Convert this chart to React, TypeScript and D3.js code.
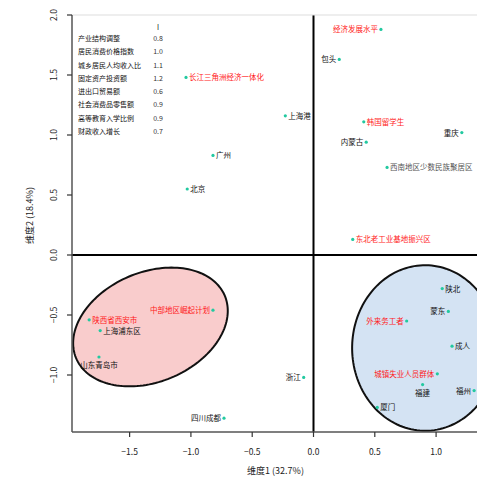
// App.tsx
import React, { useRef, useEffect } from 'react';
import * as d3 from 'd3';

// ---- DATA ----
const pointNames = [
  '经济发展水平', '包头', '上海港', '韩国留学生', '内蒙古', '重庆',
  '西南地区少数民族聚居区', '东北老工业基地振兴区',
  '长江三角洲经济一体化', '广州', '北京',
  '陕西省西安市', '中部地区崛起计划', '上海浦东区', '山东青岛市', '浙江', '四川成都',
  '陕北', '外来务工者', '蒙东', '成人', '城镇失业人员群体', '福建', '福州', '厦门',
];
const pointX = [
  0.55, 0.21, -0.23, 0.41, 0.43, 1.21, 0.6, 0.32,
  -1.04, -0.82, -1.03,
  -1.83, -0.82, -1.74, -1.75, -0.08, -0.73,
  1.05, 0.76, 1.1, 1.13, 1.01, 0.89, 1.31, 0.52,
];
const pointY = [
  1.88, 1.63, 1.16, 1.11, 0.94, 1.02, 0.73, 0.13,
  1.48, 0.83, 0.55,
  -0.54, -0.46, -0.63, -0.85, -1.02, -1.36,
  -0.28, -0.55, -0.47, -0.76, -0.99, -1.08, -1.13, -1.27,
];
// 'a' = red labels, 'b' = black labels, 'c' = grey
const pointGroup = [
  'a', 'b', 'b', 'a', 'b', 'b', 'c', 'a',
  'a', 'b', 'b',
  'a', 'a', 'b', 'b', 'b', 'b',
  'b', 'a', 'b', 'b', 'a', 'b', 'b', 'b',
];
const labelSide = [
  'end', 'end', 'start', 'start', 'end', 'end', 'start', 'start',
  'start', 'start', 'start',
  'start', 'end', 'start', 'below', 'end', 'end',
  'start', 'end', 'end', 'start', 'end', 'below', 'end', 'start',
];

const legendNames = [
  '产业结构调整', '居民消费价格指数', '城乡居民人均收入比', '固定资产投资额',
  '进出口贸易额', '社会消费品零售额', '高等教育入学比例', '财政收入增长',
];
const legendValues = ['0.8', '1.0', '1.1', '1.2', '0.6', '0.9', '0.9', '0.7'];

// ellipses: center x, center y, semi-axis a, semi-axis b, angle (deg)
const ellipseCx = [-1.33, 0.91];
const ellipseCy = [-0.6, -0.775];
const ellipseA = [0.66, 0.595];
const ellipseB = [0.455, 0.69];
const ellipseAngle = [24, 0];
const ellipseFill = ['#f9cccc', '#d4e3f3'];

const xTicks = [-1.5, -1.0, -0.5, 0.0, 0.5, 1.0];
const yTicks = [-1.0, -0.5, 0.0, 0.5, 1.0, 1.5, 2.0];
const xTitle = '维度1 (32.7%)';
const yTitle = '维度2 (18.4%)';

const App = () => {
  const ref = useRef<HTMLDivElement>(null);

  useEffect(() => {
    const width = 477;
    const height = 480;
    const left = 72, right = 479, top = 15, bottom = 432;
    const font = '"Noto Sans CJK SC", "Noto Sans", sans-serif';

    const x = d3.scaleLinear().domain([-1.97, 1.35]).range([left, right]);
    const y = d3.scaleLinear().domain([-1.475, 2.0]).range([bottom, top]);

    const root = d3.select(ref.current);
    root.selectAll('*').remove();
    const svg = root.append('svg')
      .attr('width', width)
      .attr('height', height)
      .style('position', 'absolute')
      .style('left', 0)
      .style('top', 0)
      .style('background', '#fff');

    svg.append('defs').append('clipPath').attr('id', 'plotClip')
      .append('rect')
      .attr('x', left).attr('y', top)
      .attr('width', right - left).attr('height', bottom - top);

    const plot = svg.append('g').attr('clip-path', 'url(#plotClip)');

    // confidence ellipses
    ellipseCx.forEach((cx, k) => {
      const th = (ellipseAngle[k] * Math.PI) / 180;
      const ts = d3.range(0, 2 * Math.PI, 0.04);
      const path = d3.line<number>()
        .x(t => x(cx + ellipseA[k] * Math.cos(t) * Math.cos(th) - ellipseB[k] * Math.sin(t) * Math.sin(th)))
        .y(t => y(ellipseCy[k] + ellipseA[k] * Math.cos(t) * Math.sin(th) + ellipseB[k] * Math.sin(t) * Math.cos(th)))
        .curve(d3.curveLinearClosed);
      plot.append('path')
        .attr('d', path(ts))
        .attr('fill', ellipseFill[k])
        .attr('stroke', '#111')
        .attr('stroke-width', 2);
    });

    // zero lines
    plot.append('line')
      .attr('x1', x(0)).attr('x2', x(0)).attr('y1', top).attr('y2', bottom)
      .attr('stroke', '#000').attr('stroke-width', 2);
    plot.append('line')
      .attr('x1', left).attr('x2', right).attr('y1', y(0)).attr('y2', y(0))
      .attr('stroke', '#000').attr('stroke-width', 2);

    // points + labels
    const idx = d3.range(pointNames.length);
    plot.append('g').selectAll('circle')
      .data(idx)
      .join('circle')
        .attr('cx', i => x(pointX[i]))
        .attr('cy', i => y(pointY[i]))
        .attr('r', 1.6)
        .attr('fill', '#22c9a0');

    const colorOf = (g: string) => (g === 'a' ? '#ff1a1a' : g === 'c' ? '#555' : '#111');
    plot.append('g').selectAll('text')
      .data(idx)
      .join('text')
        .attr('x', i => {
          const s = labelSide[i];
          return x(pointX[i]) + (s === 'start' ? 3 : s === 'end' ? -3 : 0);
        })
        .attr('y', i => y(pointY[i]) + (labelSide[i] === 'below' ? 11 : 3))
        .attr('text-anchor', i => (labelSide[i] === 'below' ? 'middle' : labelSide[i]))
        .attr('font-family', font)
        .attr('font-size', 7.5)
        .attr('fill', i => colorOf(pointGroup[i]))
        .text(i => pointNames[i]);

    // frame
    svg.append('line')
      .attr('x1', left).attr('x2', right).attr('y1', top).attr('y2', top)
      .attr('stroke', '#ddd').attr('stroke-width', 1);
    svg.append('line')
      .attr('x1', left).attr('x2', left).attr('y1', top).attr('y2', bottom)
      .attr('stroke', '#555').attr('stroke-width', 1.5);
    svg.append('line')
      .attr('x1', left).attr('x2', right).attr('y1', bottom).attr('y2', bottom)
      .attr('stroke', '#555').attr('stroke-width', 1.5);

    const fmt = d3.format('.1f');
    // x ticks
    const xt = svg.append('g');
    xt.selectAll('line').data(xTicks).join('line')
      .attr('x1', d => x(d)).attr('x2', d => x(d))
      .attr('y1', bottom).attr('y2', bottom + 5)
      .attr('stroke', '#333').attr('stroke-width', 1.2);
    xt.selectAll('text').data(xTicks).join('text')
      .attr('x', d => x(d)).attr('y', bottom + 23)
      .attr('text-anchor', 'middle')
      .attr('font-family', font).attr('font-size', 8.5).attr('fill', '#222')
      .text(d => fmt(d));

    // y ticks
    const yt = svg.append('g');
    yt.selectAll('line').data(yTicks).join('line')
      .attr('x1', left - 5).attr('x2', left)
      .attr('y1', d => y(d)).attr('y2', d => y(d))
      .attr('stroke', '#333').attr('stroke-width', 1.2);
    yt.selectAll('text').data(yTicks).join('text')
      .attr('transform', d => `translate(${left - 15},${y(d)}) rotate(-90)`)
      .attr('text-anchor', 'middle')
      .attr('font-family', font).attr('font-size', 8.5).attr('fill', '#222')
      .text(d => fmt(d));

    // titles
    svg.append('text')
      .attr('x', (left + right) / 2).attr('y', 474)
      .attr('text-anchor', 'middle')
      .attr('font-family', font).attr('font-size', 9).attr('fill', '#222')
      .text(xTitle);
    svg.append('text')
      .attr('transform', `translate(33,${(top + bottom) / 2 - 8}) rotate(-90)`)
      .attr('text-anchor', 'middle')
      .attr('font-family', font).attr('font-size', 9).attr('fill', '#222')
      .text(yTitle);

    // legend table (top left)
    const lg = svg.append('g');
    lg.append('text')
      .attr('x', 158).attr('y', 30)
      .attr('text-anchor', 'middle')
      .attr('font-family', font).attr('font-size', 7).attr('fill', '#111')
      .text('I');
    const rowY = d3.scaleLinear().domain([0, 7]).range([41, 134]);
    lg.selectAll('text.nm').data(legendNames).join('text')
      .attr('class', 'nm')
      .attr('x', 78).attr('y', (d, i) => rowY(i))
      .attr('font-family', font).attr('font-size', 7).attr('fill', '#111')
      .text(d => d);
    lg.selectAll('text.vl').data(legendValues).join('text')
      .attr('class', 'vl')
      .attr('x', 158).attr('y', (d, i) => rowY(i))
      .attr('text-anchor', 'middle')
      .attr('font-family', font).attr('font-size', 7).attr('fill', '#333')
      .text(d => d);
  }, []);

  return <div ref={ref} style={{ width: 477, height: 480 }} />;
};

export default App;
